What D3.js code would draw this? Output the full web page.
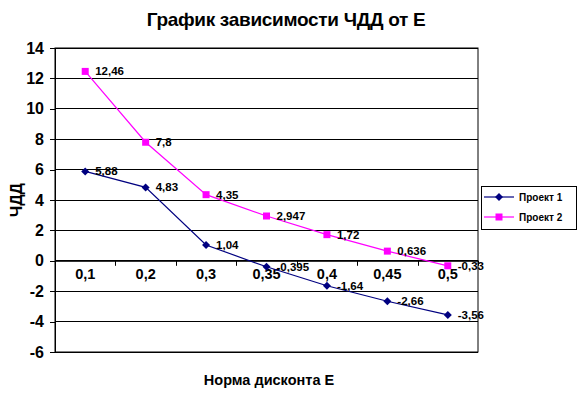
<!DOCTYPE html>
<html><head><meta charset="utf-8">
<script src="https://cdn.jsdelivr.net/npm/d3@7"></script>
<style>body{margin:0;background:#fff}svg{display:block;font-family:"Liberation Sans",Arial,sans-serif}</style>
</head><body><svg id="c" width="582" height="398"></svg>
<script>
const categories = ["0,1","0,2","0,3","0,35","0,4","0,45","0,5"];
const project1 = [5.88, 4.83, 1.04, -0.395, -1.64, -2.66, -3.56];
const project2 = [12.46, 7.8, 4.35, 2.947, 1.72, 0.636, -0.33];
const labels1 = ["5,88","4,83","1,04","-0,395","-1,64","-2,66","-3,56"];
const labels2 = ["12,46","7,8","4,35","2,947","1,72","0,636","-0,33"];
const yTicks = [14,12,10,8,6,4,2,0,-2,-4,-6];
const seriesNames = ["Проект 1","Проект 2"];
const colors = ["#000080","#FF00FF"];

const svg = d3.select("#c");
const L=55,R=478,T=48,B=352;
const x = d3.scaleBand().domain(categories).range([L,R]);
const y = d3.scaleLinear().domain([-6,14]).range([B,T]);
const diamond = "M0,-4L4,0L0,4L-4,0Z";

svg.append("rect").attr("x",L).attr("y",T).attr("width",R-L).attr("height",B-T).attr("fill","#fff").attr("stroke","#000");
svg.append("g").selectAll("line").data(yTicks).join("line")
  .attr("x1",L).attr("x2",R).attr("y1",d=>y(d)).attr("y2",d=>y(d)).attr("stroke","#000").attr("stroke-width",1)
  .attr("shape-rendering","crispEdges");
const ya = svg.append("g").attr("transform",`translate(${L},0)`).call(d3.axisLeft(y).tickValues(yTicks).tickSize(5).tickFormat(d=>d));
ya.select(".domain").attr("stroke","#000");
ya.selectAll("text").attr("font-size",16).attr("font-weight","bold").attr("font-family","Liberation Sans, Arial").attr("dx",-3).attr("fill","#000");
ya.selectAll("line").attr("shape-rendering","crispEdges");
const xa = svg.append("g").attr("transform",`translate(0,${y(0)})`).call(d3.axisBottom(x).tickSize(0));
xa.select(".domain").attr("stroke","#000");
xa.selectAll("text").attr("font-size",14.5).attr("font-weight","bold").attr("font-family","Liberation Sans, Arial").attr("dy","1.05em").attr("fill","#000");
const bounds = categories.map(c=>x(c)).concat([R]);
svg.append("g").selectAll("line").data(bounds).join("line")
  .attr("x1",d=>Math.round(d)+0.5).attr("x2",d=>Math.round(d)+0.5).attr("y1",y(0)).attr("y2",y(0)+5).attr("stroke","#000");

const cx = c=>x(c)+x.bandwidth()/2;
const line = d3.line().x((d,i)=>cx(categories[i])).y(d=>y(d));
[project1,project2].forEach((s,k)=>{
  svg.append("path").datum(s).attr("d",line).attr("fill","none").attr("stroke",colors[k]).attr("stroke-width",1.2);
});
svg.append("g").selectAll("path").data(project1).join("path")
  .attr("transform",(d,i)=>`translate(${cx(categories[i])},${y(d)})`)
  .attr("d",diamond).attr("fill",colors[0]);
svg.append("g").selectAll("rect").data(project2).join("rect")
  .attr("x",(d,i)=>cx(categories[i])-3.5).attr("y",d=>y(d)-3.5).attr("width",7).attr("height",7).attr("fill",colors[1]);
[[project1,labels1],[project2,labels2]].forEach(([s,lab])=>{
  svg.append("g").selectAll("text").data(s).join("text")
    .attr("x",(d,i)=>cx(categories[i])+10).attr("y",d=>y(d)+4)
    .attr("font-size",11.5).attr("font-weight","bold").attr("fill","#000")
    .text((d,i)=>lab[i]);
});
svg.append("text").attr("x",286).attr("y",26).attr("text-anchor","middle").attr("font-size",19).attr("font-weight","bold").attr("letter-spacing",-0.3).text("График зависимости ЧДД от Е");
svg.append("text").attr("x",269).attr("y",385).attr("text-anchor","middle").attr("font-size",14.5).attr("font-weight","bold").text("Норма дисконта Е");
svg.append("text").attr("transform","translate(22,200) rotate(-90)").attr("text-anchor","middle").attr("font-size",16).attr("font-weight","bold").text("ЧДД");
const lg = svg.append("g");
lg.append("rect").attr("x",481.5).attr("y",186.5).attr("width",95).attr("height",43).attr("fill","#fff").attr("stroke","#000");
seriesNames.forEach((n,k)=>{
  const yy = 197 + k*20;
  lg.append("line").attr("x1",484).attr("x2",514).attr("y1",yy).attr("y2",yy).attr("stroke",colors[k]).attr("stroke-width",1.2);
  if(k===0) lg.append("path").attr("transform",`translate(499,${yy})`).attr("d",diamond).attr("fill",colors[k]);
  else lg.append("rect").attr("x",495.5).attr("y",yy-3.5).attr("width",7).attr("height",7).attr("fill",colors[k]);
  lg.append("text").attr("x",519).attr("y",yy+4).attr("font-size",10).attr("font-weight","bold").text(n);
});
</script></body></html>
